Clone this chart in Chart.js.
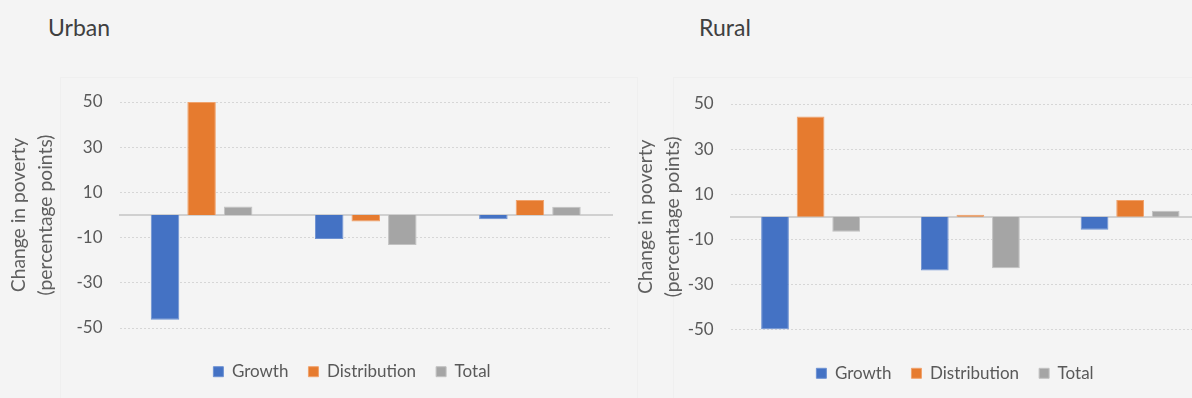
<!DOCTYPE html>
<html>
<head>
<meta charset="utf-8">
<title>Change in poverty</title>
<script src="https://cdn.jsdelivr.net/npm/chart.js@4.4.1/dist/chart.umd.min.js"></script>
<style>
    html, body { margin: 0; padding: 0; background: #f4f4f4; overflow: hidden; }
    body { width: 1192px; height: 398px; position: relative; font-family: Lato, sans-serif; }
    .marco { position: absolute; top: 77px; height: 340px; border: 1px solid #efefef; }
    .titulo { position: absolute; top: 16px; font-size: 23px; line-height: 23px; color: #404040; }
    .lienzo { position: absolute; top: 0; height: 398px; }
</style>
</head>
<body>
<div class="marco" style="left:60px; width:576px"></div>
<div class="marco" style="left:673px; width:560px"></div>
<div class="titulo" style="left:48px">Urban</div>
<div class="titulo" style="left:699px">Rural</div>
<div class="lienzo" style="left:0; width:640px"><canvas id="graficoUrbano"></canvas></div>
<div class="lienzo" style="left:628px; width:610px"><canvas id="graficoRural"></canvas></div>

<script>
// ==================== DATOS ====================
const categorias = ['1', '2', '3'];   // el eje x no lleva etiquetas
const series = ['Growth', 'Distribution', 'Total'];
const ticksY = [-50, -30, -10, 10, 30, 50];
const tituloY = ['Change in poverty', '(percentage points)'];

const urbanoGrowth = [-46.3, -10.6, -1.9];
const urbanoDistribution = [50, -2.9, 6.6];
const urbanoTotal = [3.8, -13.3, 3.7];

const ruralGrowth = [-50, -23.8, -5.8];
const ruralDistribution = [44.5, 0.9, 7.4];
const ruralTotal = [-6.7, -22.8, 2.7];

const colores = ['#4472C4', '#E67B2F', '#A5A5A5'];
const bordes = ['#6d91d2', '#f0a26c', '#c2c2c2'];
const fuente = 'Lato, "Open Sans", sans-serif';

// ==================== LEYENDA EN POSICION FIJA ====================
// centra la leyenda en (x, y) en lugar de usar el centro del canvas
const leyendaFija = {
    id: 'leyendaFija',
    afterLayout(chart, args, opts) {
        const ley = chart.legend;
        if (!ley) return;
        const ancho = ley.width;
        const alto = ley.height;
        const pad = ley.options.labels.padding;
        const tam = ley.options.labels.font.size;
        ley.left = opts.x - ancho / 2;
        ley.right = ley.left + ancho;
        ley.top = opts.y - pad - tam / 2;
        ley.bottom = ley.top + alto;
    }
};

// ==================== CREAR GRAFICO ====================
function crearGrafico(id, datos, ajuste) {
    const ctx = document.getElementById(id);

    return new Chart(ctx, {
        type: 'bar',
        data: {
            labels: categorias,
            datasets: series.map((nombre, i) => ({
                label: nombre,
                data: datos[i],
                backgroundColor: colores[i],
                borderColor: bordes[i],
                borderWidth: 1,
                categoryPercentage: 0.668,
                barPercentage: 0.78
            }))
        },
        options: {
            responsive: true,
            maintainAspectRatio: false,
            animation: false,
            layout: {
                padding: { top: ajuste.arriba, right: 28, bottom: ajuste.abajo, left: 0 }
            },
            plugins: {
                legend: {
                    position: 'bottom',
                    labels: {
                        boxWidth: 10,
                        boxHeight: 10,
                        padding: 20,
                        color: '#595959',
                        font: { family: fuente, size: 17 }
                    }
                },
                tooltip: { enabled: false },
                leyendaFija: { x: ajuste.leyendaX, y: ajuste.leyendaY }
            },
            scales: {
                x: {
                    position: { y: 0 },
                    z: 1,
                    ticks: { display: false },
                    grid: { display: false },
                    border: { color: '#d0d0d0', width: 2 }
                },
                y: {
                    min: -50,
                    max: 50,
                    afterBuildTicks: (escala) => {
                        escala.ticks = ticksY.map(v => ({ value: v }));
                    },
                    // ancho fijo del eje: titulo + etiquetas
                    afterFit: (escala) => {
                        escala.width = ajuste.anchoEje;
                    },
                    ticks: {
                        padding: 17,
                        color: '#595959',
                        font: { family: fuente, size: 17 }
                    },
                    grid: {
                        color: '#d6d6d6',
                        lineWidth: 1,
                        drawTicks: false
                    },
                    border: { display: false, dash: [2, 2] },
                    title: {
                        display: true,
                        text: tituloY,
                        color: '#5f5f5f',
                        font: { family: fuente, size: 19.3, lineHeight: 1.4 },
                        padding: { top: ajuste.tituloArriba, bottom: 0 }
                    }
                }
            }
        },
        plugins: [leyendaFija]
    });
}

crearGrafico('graficoUrbano', [urbanoGrowth, urbanoDistribution, urbanoTotal], {
    arriba: 102, abajo: 23, tituloArriba: 5.5, anchoEje: 119.5,
    leyendaX: 352, leyendaY: 371.7
});

crearGrafico('graficoRural', [ruralGrowth, ruralDistribution, ruralTotal], {
    arriba: 104, abajo: 21.5, tituloArriba: 4.5, anchoEje: 102.7,
    leyendaX: 327, leyendaY: 373.3
});
</script>
</body>
</html>
